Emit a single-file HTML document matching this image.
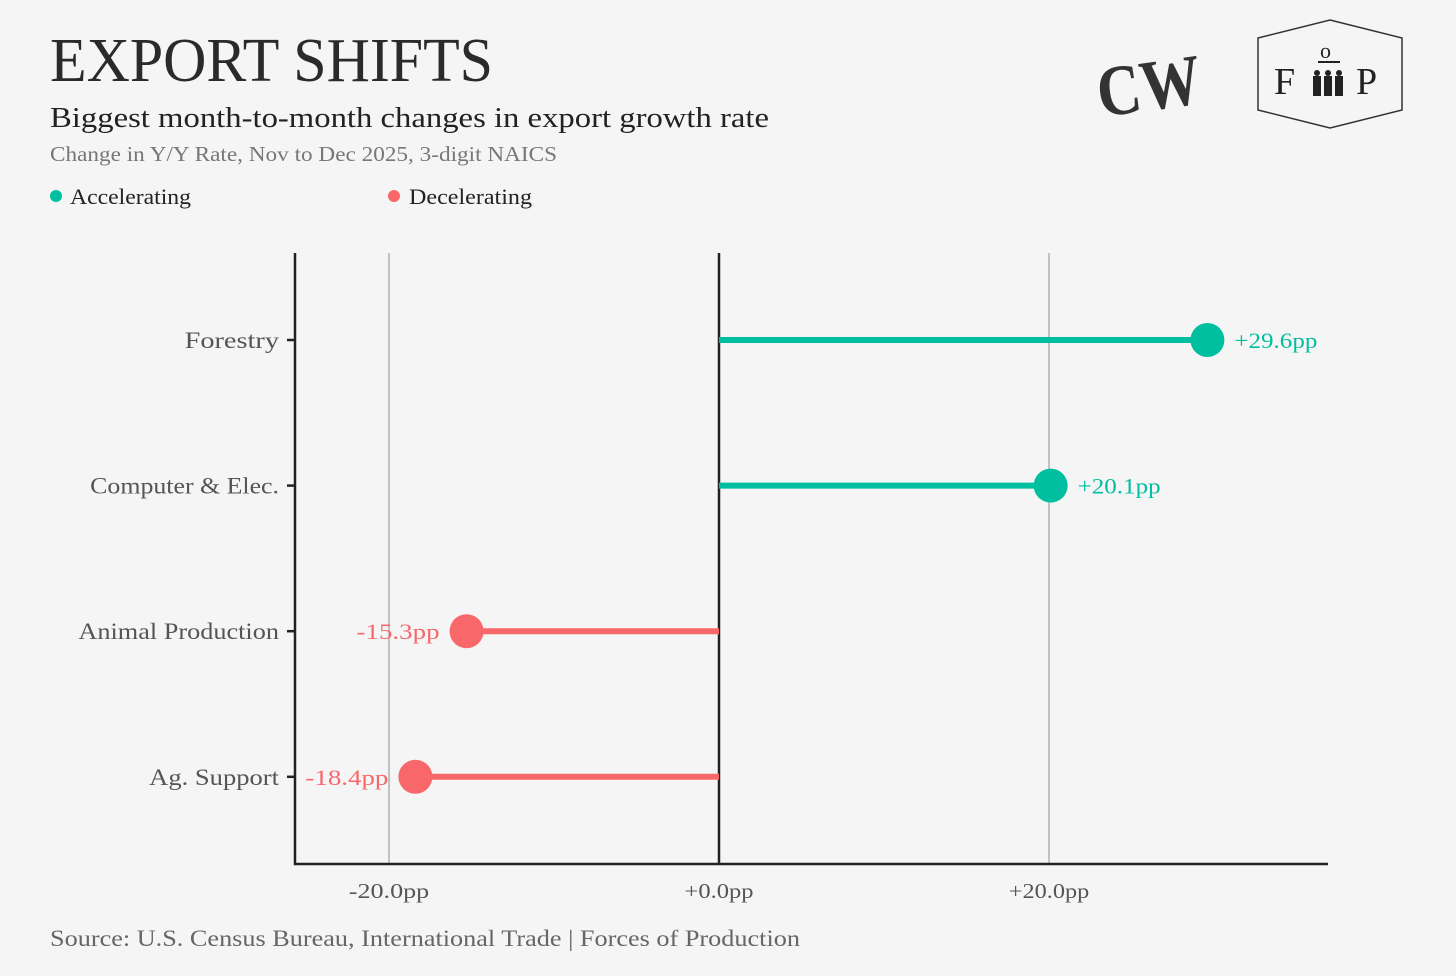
<!DOCTYPE html>
<html><head><meta charset="utf-8"><style>
body{margin:0;background:#f5f5f5;}
svg text{font-family:"Liberation Serif",serif;}
</style></head><body>
<svg id="chart" width="1456" height="971" viewBox="0 0 1456 971" xmlns="http://www.w3.org/2000/svg">
<rect width="1456" height="971" fill="#f5f5f5"/>
<text x="50" y="81" font-size="62" fill="#2a2a2a" textLength="443" lengthAdjust="spacingAndGlyphs">EXPORT SHIFTS</text>
<text x="50" y="127" font-size="29" fill="#222" textLength="719" lengthAdjust="spacingAndGlyphs">Biggest month-to-month changes in export growth rate</text>
<text x="50" y="161" font-size="21" fill="#777" textLength="507" lengthAdjust="spacingAndGlyphs">Change in Y/Y Rate, Nov to Dec 2025, 3-digit NAICS</text>
<g>
<circle cx="56" cy="196" r="6" fill="#00bfa0"/>
<text x="70" y="204" font-size="22" fill="#222" textLength="121" lengthAdjust="spacingAndGlyphs">Accelerating</text>
<circle cx="394" cy="196" r="6" fill="#f8676a"/>
<text x="409" y="204" font-size="22" fill="#222" textLength="123" lengthAdjust="spacingAndGlyphs">Decelerating</text>
</g>
<g>
<text x="1096" y="110" font-size="72" font-weight="bold" fill="#333" font-family="Liberation Sans, sans-serif" textLength="104" lengthAdjust="spacingAndGlyphs" transform="rotate(-8 1148 80)">CW</text>
</g>
<g>
<polygon points="1330,20 1402,38 1402,110 1330,128 1258,110 1258,38" fill="none" stroke="#333" stroke-width="1.5"/>
<text x="1274" y="94" font-size="38" fill="#222">F</text>
<text x="1356" y="94" font-size="38" fill="#222">P</text>
<text x="1320" y="58" font-size="22" fill="#222">o</text>
<rect x="1318" y="61" width="22" height="2" fill="#222"/>
<g fill="#222">
<circle cx="1317" cy="73" r="3"/><rect x="1313" y="76" width="8" height="20"/>
<circle cx="1328" cy="73" r="3"/><rect x="1324" y="76" width="8" height="20"/>
<circle cx="1339" cy="73" r="3"/><rect x="1335" y="76" width="8" height="20"/>
</g>
</g>
<g id="plot"></g>
<text x="50" y="946" font-size="23" fill="#666" textLength="750" lengthAdjust="spacingAndGlyphs">Source: U.S. Census Bureau, International Trade | Forces of Production</text>
<script>
const categories=["Forestry","Computer & Elec.","Animal Production","Ag. Support"];
const values=[29.6,20.1,-15.3,-18.4];
const valueLabels=["+29.6pp","+20.1pp","-15.3pp","-18.4pp"];
const tickValues=[-20,0,20];
const tickLabels=["-20.0pp","+0.0pp","+20.0pp"];
const NS="http://www.w3.org/2000/svg";
const g=document.getElementById('plot');
const x0=719, k=(1049-719)/20;
const xs=v=>x0+v*k;
const ys=i=>340+i*145.6;
function mk(t,a,txt){const e=document.createElementNS(NS,t);for(const n in a)e.setAttribute(n,a[n]);if(txt!=null)e.textContent=txt;g.appendChild(e);return e;}
tickValues.forEach((v,i)=>{
 const l=mk('line',{x1:xs(v),x2:xs(v),y1:253,y2:864,stroke:v===0?'#222':'#777','stroke-width':v===0?2.5:0.8});
 
 
 const t=mk('text',{x:xs(v),y:898,'text-anchor':'middle','font-size':21,fill:'#555',textLength:tickLabels[i].length*11.5,lengthAdjust:'spacingAndGlyphs'},tickLabels[i]);
 
 
});
const ax=mk('path',{d:'M295,253 V864 H1328',fill:'none',stroke:'#222','stroke-width':2.5});


categories.forEach((c,i)=>{
 const y=ys(i),v=values[i],col=v>=0?'#00bfa0':'#f8676a';
 const tk=mk('line',{x1:287,x2:295,y1:y,y2:y,stroke:'#222','stroke-width':2.5});
 
 
 const lb=mk('text',{x:279,y:y+8,'text-anchor':'end','font-size':23,fill:'#555',textLength:c.length*11.8,lengthAdjust:'spacingAndGlyphs'},c);
 
 
 const st=mk('line',{x1:xs(0),x2:xs(v),y1:y,y2:y,stroke:col,'stroke-width':6});
 
 
 const dot=mk('circle',{cx:xs(v),cy:y,r:17,fill:col});
 
 
 const vl=mk('text',{x:v>=0?xs(v)+27:xs(v)-27,y:y+8,'text-anchor':v>=0?'start':'end','font-size':22,fill:col,textLength:83,lengthAdjust:'spacingAndGlyphs'},valueLabels[i]);
 
 
});
</script>
</svg>
</body></html>
